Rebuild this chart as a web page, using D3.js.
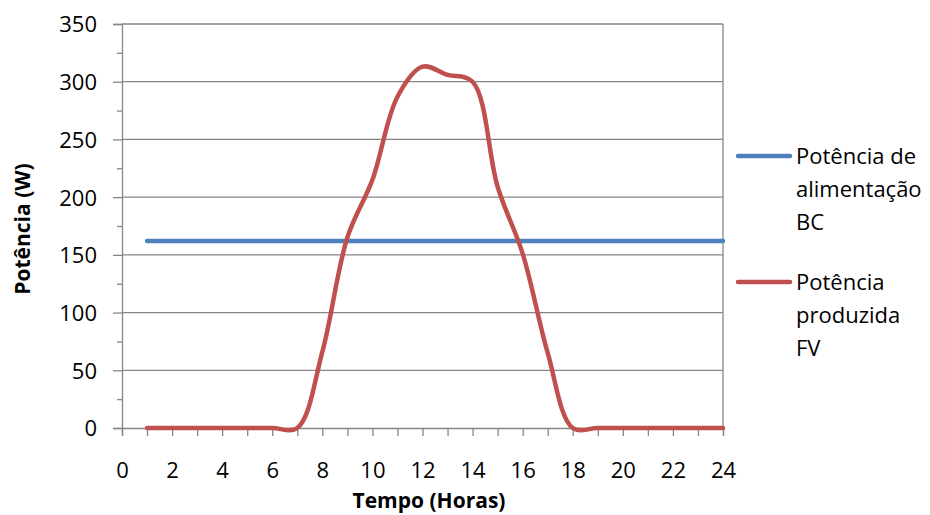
<!DOCTYPE html>
<html><head><meta charset="utf-8">
<script src="https://cdn.jsdelivr.net/npm/d3@7"></script>
<style>body{margin:0;background:#fff}svg{display:block}text{font-family:"Open Sans",sans-serif;fill:#000}</style>
</head><body><svg id="c" width="930" height="515"></svg>
<script>
const hours = [1,2,3,4,5,6,7,8,9,10,11,12,13,14,15,16,17,18,19,20,21,22,23,24];
const potenciaBC = [162,162,162,162,162,162,162,162,162,162,162,162,162,162,162,162,162,162,162,162,162,162,162,162];
const potenciaFV = [0,0,0,0,0,0,0,66,165,215,287,313,306,300,209,151,65,0,0,0,0,0,0,0];
const xTicks = [0,2,4,6,8,10,12,14,16,18,20,22,24];
const yTicks = [0,50,100,150,200,250,300,350];
const seriesNames = [["Potência de","alimentação","BC"],["Potência","produzida","FV"]];
const colors = ["#4F81BD","#C0504D"];

const svg = d3.select("#c");
const x = d3.scaleLinear().domain([0,24]).range([122,723]);
const y = d3.scaleLinear().domain([0,350]).range([428,24]);
const axisCol = "#868686";
const fs = "22px";

svg.append("g").selectAll("line").data(yTicks.filter(d=>d>0)).join("line")
  .attr("x1",x(0)).attr("x2",x(24)).attr("y1",d=>y(d)).attr("y2",d=>y(d))
  .attr("stroke",axisCol).attr("stroke-width",1.3);
svg.append("line").attr("x1",x(24)).attr("x2",x(24)).attr("y1",y(350)).attr("y2",y(0))
  .attr("stroke",axisCol).attr("stroke-width",1.3);

const yAxis = d3.axisLeft(y).tickValues(yTicks).tickSize(9).tickPadding(16);
const gy = svg.append("g").attr("transform",`translate(${x(0)},0)`).call(yAxis);
gy.selectAll(".tick line").attr("stroke",axisCol).attr("stroke-width",1.3);
gy.select(".domain").attr("stroke",axisCol).attr("stroke-width",1.3);
gy.selectAll("text").style("font-size",fs).attr("fill","#000").attr("dy","0.36em");
const yMinor = d3.axisLeft(y).tickValues(d3.range(25,350,50)).tickSize(5).tickFormat("");
const gym = svg.append("g").attr("transform",`translate(${x(0)},0)`).call(yMinor);
gym.select(".domain").remove();
gym.selectAll("line").attr("stroke",axisCol).attr("stroke-width",1.3);

const xAxis = d3.axisBottom(x).tickValues(xTicks).tickSize(8).tickPadding(26);
const gx = svg.append("g").attr("transform",`translate(0,${y(0)})`).call(xAxis);
gx.select(".domain").attr("stroke",axisCol).attr("stroke-width",1.3);
gx.selectAll(".tick line").attr("stroke",axisCol).attr("stroke-width",1.3);
gx.selectAll("text").style("font-size",fs).attr("fill","#000");
const xMinor = d3.axisBottom(x).tickValues(d3.range(1,24,2)).tickSize(8).tickFormat("");
const gxm = svg.append("g").attr("transform",`translate(0,${y(0)})`).call(xMinor);
gxm.select(".domain").remove();
gxm.selectAll("line").attr("stroke",axisCol).attr("stroke-width",1.3);

const line = d3.line().x((d,i)=>x(hours[i])).y(d=>y(d)).curve(d3.curveCatmullRom.alpha(0.5));
[potenciaBC,potenciaFV].forEach((s,k)=>{
  svg.append("path").attr("d",line(s)).attr("fill","none").attr("stroke",colors[k])
    .attr("stroke-width",4.5).attr("stroke-linecap","round").attr("stroke-linejoin","round");
});

svg.append("text").attr("x",429).attr("y",508).attr("text-anchor","middle")
  .style("font-size","21px").style("font-weight","bold").text("Tempo (Horas)");
svg.append("text").attr("transform","translate(30,229) rotate(-90)").attr("text-anchor","middle")
  .style("font-size","21px").style("font-weight","bold").text("Potência (W)");

const legY = [156,282];
seriesNames.forEach((lines,k)=>{
  svg.append("line").attr("x1",738).attr("x2",790).attr("y1",legY[k]).attr("y2",legY[k])
    .attr("stroke",colors[k]).attr("stroke-width",4.5).attr("stroke-linecap","round");
  lines.forEach((t,j)=>{
    svg.append("text").attr("x",796).attr("y",legY[k]+j*33).attr("dy","0.36em")
      .style("font-size",fs).text(t);
  });
});
</script></body></html>
